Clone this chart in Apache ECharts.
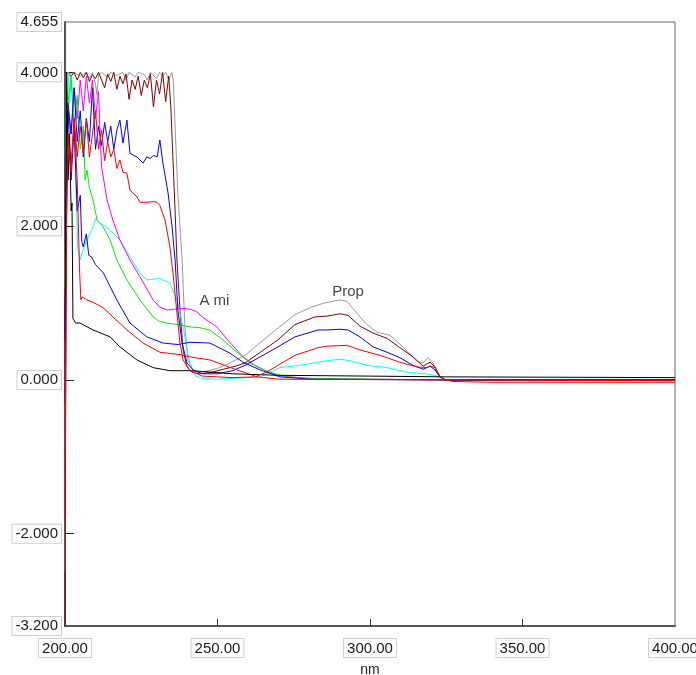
<!DOCTYPE html>
<html>
<head>
<meta charset="utf-8">
<script src="https://cdn.jsdelivr.net/npm/echarts@6/dist/echarts.min.js"></script>
<style>
html,body{margin:0;padding:0;background:#fff;}
#chart{width:696px;height:675px;}
</style>
</head>
<body>
<div id="chart"></div>
<script>
// Wavelength (nm) / absorbance pairs
const grayCurve = [[200,-2.5],[200.6,4.0],[202,3.98],[203,4.0],[205,3.95],[207,4.0],[208,3.92],[209,4.0],[210,3.85],[210.5,3.7],[211,3.97],[212,4.0],[214,3.93],[215,4.0],[217,3.96],[219,4.0],[220,3.9],[221,4.0],[223,3.94],[224,4.0],[226,3.97],[227,3.9],[228,4.0],[230,3.92],[231,4.0],[232,3.95],[233,4.0],[234,3.9],[235,4.0],[235.5,3.9],[236.1,3.3],[237,2.43],[238.4,1.56],[239.3,0.69],[240.3,0.26],[242,0.13],[244,0.1],[247,0.12],[250,0.15],[253,0.2],[256,0.26],[259,0.32],[262,0.42],[266,0.55],[270,0.68],[275.4,0.85],[281,0.95],[285,1.0],[290,1.04],[292.5,1.02],[296.7,0.82],[299,0.72],[302.3,0.62],[306.6,0.58],[310.8,0.43],[315.4,0.24],[317.4,0.22],[319,0.29],[320.7,0.22],[322.3,0.06],[324,0.01],[326,0.0],[400,0.0]];
const maroonCurve = [[200,-3.2],[200.5,4.0],[202,3.95],[203,4.0],[204,3.9],[205,4.0],[206,3.93],[207,4.0],[208,3.88],[209,3.97],[210,3.92],[211,4.0],[212,3.9],[213,3.8],[214,3.98],[215,3.88],[216,4.0],[217,3.78],[218,3.95],[219,3.85],[220,3.98],[221,3.65],[222,3.9],[223,3.78],[224,3.95],[225,3.7],[226,3.9],[227,3.8],[228,3.98],[229,3.55],[230,3.9],[231,3.72],[232,4.0],[233,3.62],[234,3.95],[234.7,3.55],[235.4,2.86],[236.1,2.2],[236.7,1.56],[237.7,0.91],[238.7,0.39],[240,0.17],[241.6,0.1],[244,0.08],[248,0.1],[252,0.14],[256,0.18],[259,0.22],[264,0.36],[269.8,0.52],[275.4,0.72],[282,0.82],[285.9,0.83],[290.2,0.86],[292.8,0.84],[296.7,0.7],[301,0.61],[305.6,0.54],[309.8,0.42],[314.1,0.3],[317.4,0.18],[319.7,0.23],[321.3,0.17],[323,0.04],[324.6,0.0],[400,0.0]];
const blueHighCurve = [[200,0.6],[200.5,3.0],[201,3.6],[202,3.2],[203,3.8],[204,3.1],[205,3.5],[206,2.9],[207,3.4],[208,3.1],[209,3.8],[210,3.0],[211,3.3],[212,3.05],[213,3.35],[214,3.1],[215,3.3],[216,3.0],[217,3.25],[218,3.38],[219,3.08],[220.3,3.38],[221.3,2.95],[222.5,2.92],[223.6,2.9],[224.6,2.86],[225.6,2.82],[226.8,2.9],[227.9,2.88],[229,2.92],[230.2,2.9],[231.1,3.12],[232.1,2.82],[233.8,2.43],[235.1,1.99],[236.1,1.56],[237,0.91],[238.4,0.48],[240,0.22],[242,0.13],[245,0.08],[250,0.08],[255,0.12],[259,0.19],[264,0.3],[269.8,0.43],[275.4,0.56],[283,0.65],[285.9,0.65],[290.2,0.66],[292.8,0.65],[296.7,0.56],[301,0.43],[305.6,0.36],[309.8,0.29],[314.1,0.19],[317.4,0.14],[319.7,0.18],[321.3,0.13],[323,0.04],[324.6,0.0],[400,0.0]];
const redHighCurve = [[200,-1.8],[200.5,2.2],[201,3.2],[202,2.7],[203,3.4],[204,2.9],[205,3.3],[206,2.95],[207,3.4],[208,2.9],[209,3.2],[210,3.5],[211,3.0],[212,3.25],[213,2.85],[214,3.1],[215,2.9],[216,3.0],[217,2.75],[218,2.86],[219,2.7],[220.3,2.69],[221.3,2.47],[222.5,2.42],[223.6,2.38],[224.6,2.31],[226.9,2.31],[229,2.32],[230.2,2.31],[231.1,2.27],[232.8,2.08],[234.4,1.73],[235.4,1.39],[236.7,0.87],[237.7,0.48],[238.7,0.26],[241,0.12],[245,0.05],[250,0.04],[255,0.03],[262.3,0.04],[266,0.1],[269.8,0.19],[275.4,0.32],[283,0.42],[285.9,0.44],[292.5,0.45],[296.7,0.39],[303.3,0.32],[309.8,0.23],[315.4,0.17],[318.7,0.16],[319.7,0.18],[321.3,0.16],[323,0.04],[325,0.0],[327,-0.02],[340,-0.03],[400,-0.03]];
const cyanCurve = [[200,-0.3],[200.5,3.8],[201,4.0],[201.5,3.6],[202,3.9],[203,3.4],[203.5,2.6],[204.2,1.7],[204.9,1.56],[206,1.7],[207.2,1.82],[209.2,1.99],[210,2.1],[211.5,2.04],[213,2.0],[214.8,1.95],[218,1.82],[221.3,1.6],[224.6,1.39],[226.9,1.30],[229,1.31],[231.1,1.32],[234.4,1.26],[236.7,1.04],[238.7,0.69],[240,0.4],[241,0.2],[243,0.05],[245,0.02],[250,0.01],[255,0.02],[260,0.03],[263.9,0.04],[270.5,0.16],[277,0.19],[285.9,0.25],[290.2,0.27],[293.4,0.25],[299,0.19],[305.6,0.16],[312.1,0.1],[318.7,0.08],[322,0.05],[323,0.03],[325,0.0],[400,0.0]];
const magentaCurve = [[200,-0.2],[200.5,3.0],[201,3.5],[202,3.2],[203,3.8],[204,3.4],[205,3.9],[206,3.5],[207,3.95],[208,3.6],[209,3.9],[210,3.4],[211,3.75],[211.6,3.1],[212,2.77],[213.8,2.34],[215.7,2.08],[218,1.82],[221.3,1.56],[224.6,1.34],[228.9,1.04],[231,0.95],[233.4,0.91],[236,0.92],[239,0.93],[241,0.92],[243,0.89],[245,0.82],[247.5,0.75],[249.8,0.69],[254,0.49],[258.4,0.30],[263,0.17],[269.5,0.06],[273.8,0.04],[280,0.02],[300,0.01],[325,0.0],[400,0.0]];
const greenCurve = [[200,1.2],[200.5,3.9],[201,3.6],[202,3.95],[203,3.3],[204,3.7],[205,3.0],[206,3.3],[206.6,2.6],[207.2,2.73],[208,2.5],[209.2,2.34],[210.5,2.08],[212.5,1.99],[214.8,1.82],[217,1.56],[220.3,1.30],[224.6,1.04],[228.9,0.82],[231,0.76],[233.4,0.74],[237,0.72],[241,0.69],[244,0.68],[247.5,0.65],[251.8,0.52],[256.4,0.36],[260.7,0.22],[267,0.1],[272.8,0.04],[280,0.02],[300,0.01],[325,0.0],[400,0.0]];
const blueLowCurve = [[200,0.5],[200.5,3.2],[201,3.5],[202,2.6],[203,3.3],[204,2.2],[205,2.4],[205.5,1.8],[206,1.73],[207,1.9],[207.8,1.62],[208.7,1.6],[210,1.5],[212.6,1.39],[217,1.04],[221.3,0.74],[226.8,0.56],[232.2,0.48],[237,0.46],[241,0.49],[247.5,0.48],[254,0.35],[258.4,0.23],[264,0.13],[270.5,0.04],[280,0.01],[325,0.0],[400,0.0]];
const redLowCurve = [[200,0.2],[200.5,2.0],[201,3.2],[202,2.8],[203,3.4],[204,2.6],[204.8,1.4],[205.2,1.04],[205.6,1.08],[207.2,1.04],[209.2,1.01],[212.5,0.94],[215.7,0.82],[220.3,0.65],[225.6,0.48],[231.1,0.36],[237.7,0.33],[241,0.30],[247.5,0.26],[256.4,0.13],[263,0.04],[270,0.01],[325,0.0],[400,-0.01]];
const blackCurve = [[200,-0.3],[200.5,4.0],[201,2.6],[201.5,3.2],[202,2.2],[202.3,2.3],[202.6,0.8],[203.5,0.74],[204.9,0.74],[209.2,0.65],[214.8,0.56],[218,0.43],[223.6,0.26],[228.9,0.16],[234.4,0.12],[241,0.12],[245,0.11],[255,0.08],[270,0.06],[300,0.05],[325,0.04],[400,0.03]];

const yLabelValues = [-3.2, -2, 0, 2, 4, 4.655];
const yTickValues = [-2, 0, 2, 4];
const xTickValues = [250, 300, 350];
const annotationTexts = ['A mi', 'Prop'];
const annotationCoords = [[249, 1.03], [292.8, 1.14]];

const curves = [
  {data: grayCurve, color: '#9a9a9a'},
  {data: maroonCurve, color: '#800000'},
  {data: cyanCurve, color: '#00ffff'},
  {data: magentaCurve, color: '#ff00ff'},
  {data: greenCurve, color: '#00ee00'},
  {data: blueHighCurve, color: '#0000ff'},
  {data: blueLowCurve, color: '#0000ff'},
  {data: redLowCurve, color: '#ff0000'},
  {data: blackCurve, color: '#000000'},
  {data: redHighCurve, color: '#ff0000'}
];

const labelBox = {
  color: '#1a1a1a',
  fontFamily: 'Liberation Sans, Arial, sans-serif',
  fontSize: 15,
  backgroundColor: '#fff',
  borderColor: '#cfcfcf',
  borderWidth: 1,
  padding: [2, 3, 1, 3]
};

const chart = echarts.init(document.getElementById('chart'), null, {renderer: 'canvas'});
const series = curves.map(c => ({
  type: 'line',
  data: c.data,
  showSymbol: false,
  symbol: 'none',
  lineStyle: {width: 1, color: c.color},
  itemStyle: {color: c.color},
  emphasis: {disabled: true},
  clip: true
}));
series.push({
  type: 'scatter',
  symbolSize: 0,
  silent: true,
  data: annotationCoords.map((c, i) => ({value: c, name: annotationTexts[i]})),
  label: {
    show: true,
    position: 'inside',
    formatter: p => p.name,
    color: '#111',
    fontFamily: 'Liberation Sans, Arial, sans-serif',
    fontSize: 15
  }
});

chart.setOption({
  animation: false,
  backgroundColor: '#fff',
  grid: {left: 65, right: 21, top: 22, bottom: 49, outerBoundsMode: 'none', containLabel: false, show: true, borderColor: '#666', borderWidth: 1, backgroundColor: '#fff'},
  xAxis: {
    type: 'value',
    min: 200, max: 400, interval: 50,
    name: 'nm',
    nameLocation: 'middle',
    nameGap: 36,
    nameTextStyle: {color: '#222', fontFamily: 'Liberation Sans, Arial, sans-serif', fontSize: 14},
    axisLine: {show: true, onZero: false, lineStyle: {color: '#555', width: 2}},
    axisTick: {show: true, inside: true, length: 7, customValues: xTickValues, lineStyle: {color: '#333'}},
    axisLabel: Object.assign({show: true, margin: 13, formatter: v => v.toFixed(2)}, labelBox),
    splitLine: {show: false}
  },
  yAxis: {
    type: 'value',
    min: -3.2, max: 4.655,
    axisLine: {show: true, onZero: false, lineStyle: {color: '#555', width: 2}},
    axisTick: {show: true, inside: true, length: 9, customValues: yTickValues, lineStyle: {color: '#222'}},
    axisLabel: Object.assign({show: true, margin: 4, customValues: yLabelValues, formatter: v => Number(v).toFixed(3)}, labelBox),
    splitLine: {show: false}
  },
  series: series
});
</script>
</body>
</html>
